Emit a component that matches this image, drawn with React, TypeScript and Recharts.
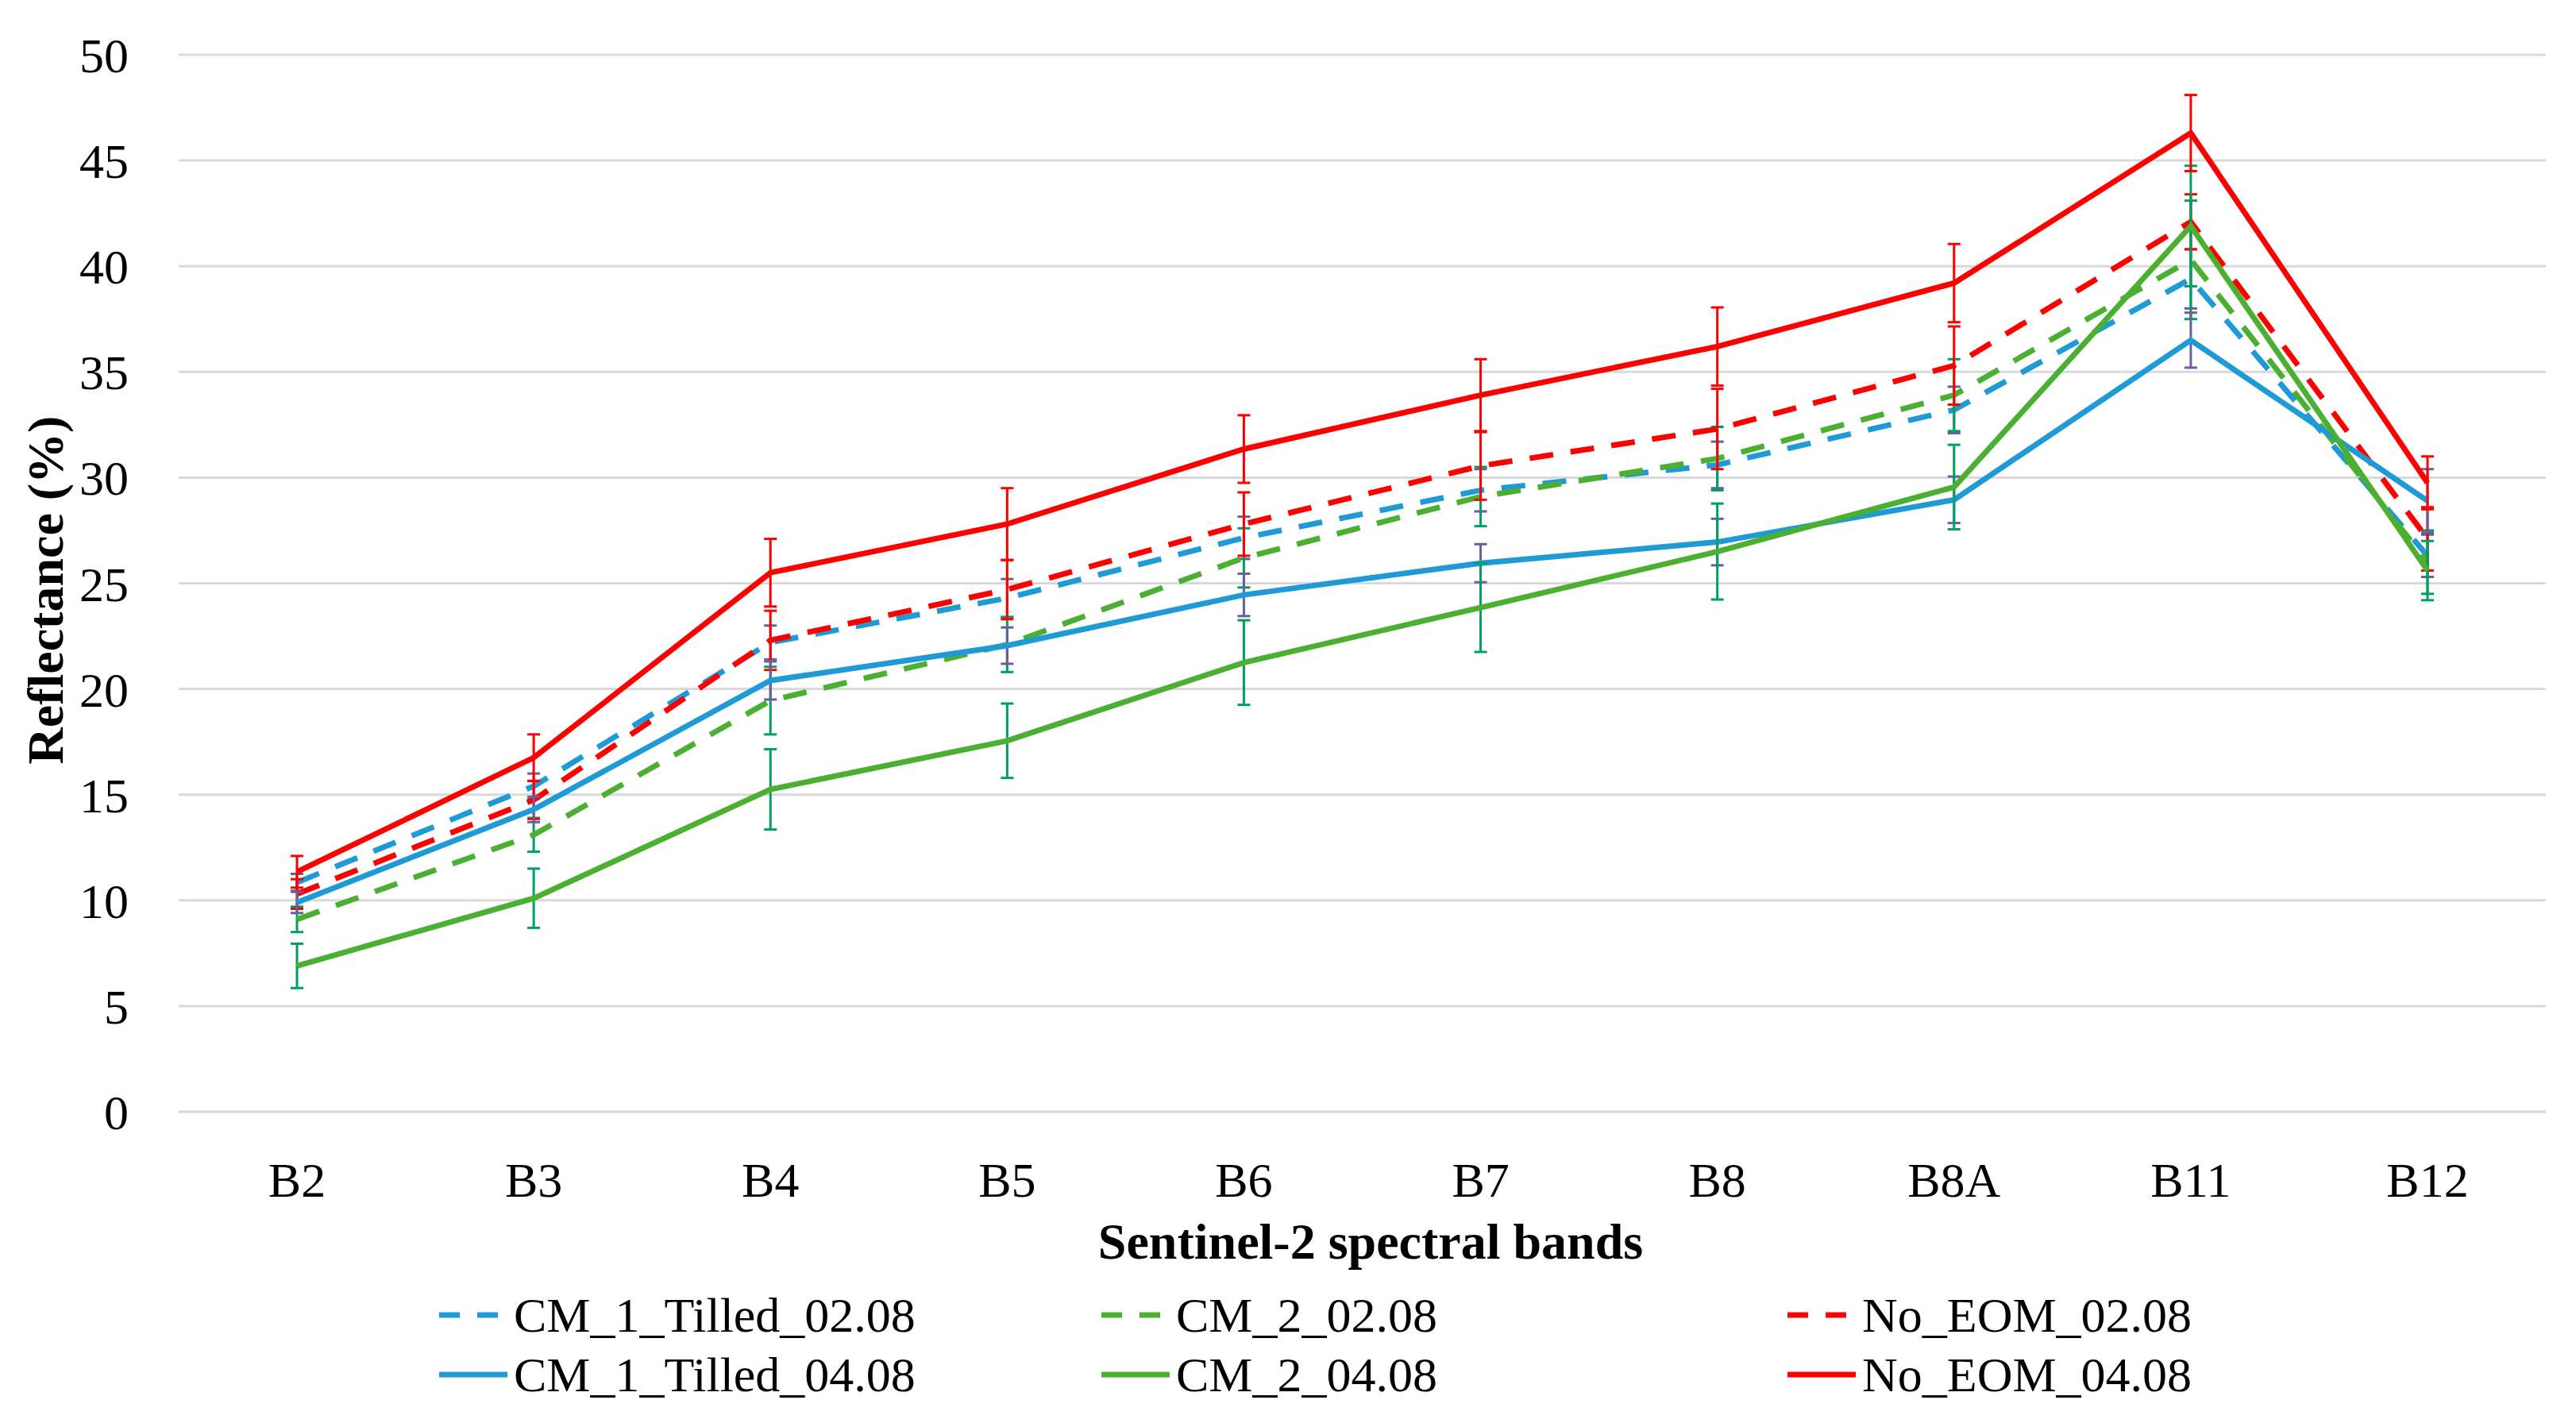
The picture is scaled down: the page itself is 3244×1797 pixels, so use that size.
import React from 'react';
import { LineChart, Line, XAxis, YAxis, CartesianGrid, ErrorBar } from 'recharts';

const bands = ['B2', 'B3', 'B4', 'B5', 'B6', 'B7', 'B8', 'B8A', 'B11', 'B12'];
const yTicks = [0, 5, 10, 15, 20, 25, 30, 35, 40, 45, 50];

// mean reflectance (%) per band
const cm1Tilled0208 = [10.85, 15.4, 22.2, 24.3, 27.15, 29.4, 30.6, 33.2, 39.4, 26.3];
const cm20208 = [9.1, 13.1, 19.45, 22.1, 26.2, 29.1, 30.9, 33.9, 40.3, 26.0];
const noEom0208 = [10.3, 14.75, 22.3, 24.7, 27.8, 30.55, 32.3, 35.3, 42.1, 27.1];
const cm1Tilled0408 = [9.9, 14.3, 20.4, 22.05, 24.45, 25.95, 26.95, 28.95, 36.5, 28.9];
const cm20408 = [6.9, 10.1, 15.25, 17.55, 21.25, 23.85, 26.5, 29.55, 41.9, 25.6];
const noEom0408 = [11.35, 16.75, 25.5, 27.8, 31.35, 33.9, 36.2, 39.2, 46.3, 29.75];

// standard deviations (error bars)
const cm1Tilled0208Err = [0.4, 0.6, 0.8, 0.9, 1.0, 1.0, 1.1, 1.1, 1.4, 1.0];
const cm20208Err = [0.6, 0.8, 1.6, 1.3, 1.4, 1.4, 1.5, 1.7, 2.8, 1.5];
const noEom0208Err = [0.7, 0.9, 1.4, 1.4, 1.5, 1.6, 1.9, 1.85, 1.3, 1.5];
const cm1Tilled0408Err = [0.5, 0.6, 0.9, 0.86, 1.0, 0.9, 1.1, 1.1, 1.3, 1.5];
const cm20408Err = [1.05, 1.4, 1.9, 1.76, 2.0, 2.1, 2.27, 2.0, 2.85, 1.4];
const noEom0408Err = [0.75, 1.1, 1.6, 1.7, 1.6, 1.7, 1.85, 1.85, 1.8, 1.25];

const BLUE = '#1E9AD6';
const GREEN = '#4BAF32';
const RED = '#FF0000';

const series = [
  { key: 'cm1_0208', name: 'CM_1_Tilled_02.08', values: cm1Tilled0208, err: cm1Tilled0208Err, color: BLUE, errColor: '#6B5E9E', dashed: true },
  { key: 'cm2_0208', name: 'CM_2_02.08', values: cm20208, err: cm20208Err, color: GREEN, errColor: '#00A060', dashed: true },
  { key: 'no_0208', name: 'No_EOM_02.08', values: noEom0208, err: noEom0208Err, color: RED, errColor: RED, dashed: true },
  { key: 'cm1_0408', name: 'CM_1_Tilled_04.08', values: cm1Tilled0408, err: cm1Tilled0408Err, color: BLUE, errColor: '#6B5E9E', dashed: false },
  { key: 'cm2_0408', name: 'CM_2_04.08', values: cm20408, err: cm20408Err, color: GREEN, errColor: '#00A060', dashed: false },
  { key: 'no_0408', name: 'No_EOM_04.08', values: noEom0408, err: noEom0408Err, color: RED, errColor: RED, dashed: false },
];

const data = bands.map((band, i) => {
  const row: any = { band };
  series.forEach(s => {
    row[s.key] = s.values[i];
    row[s.key + '_err'] = s.err[i];
  });
  return row;
});

const FONT = '"Liberation Serif", "Times New Roman", serif';
const DASH = '30 22';

const legendCols = [553, 1387, 2251];
const legendRows = [1656, 1731];

function LegendItem({ s, left, top }: { s: any; left: number; top: number }) {
  return (
    <div style={{ position: 'absolute', left, top: top - 40, height: 80, display: 'flex', alignItems: 'center', whiteSpace: 'nowrap' }}>
      <svg width={88} height={20} style={{ marginRight: 6 }}>
        <line x1={0} y1={10} x2={86} y2={10} stroke={s.color} strokeWidth={7} strokeDasharray={s.dashed ? '26 22' : undefined} />
      </svg>
      <span style={{ fontFamily: FONT, fontSize: 62, color: '#000', lineHeight: '80px' }}>{s.name}</span>
    </div>
  );
}

export default function App() {
  return (
    <div style={{ position: 'absolute', left: 0, top: 0, width: 3244, height: 1797, background: '#fff' }}>
      <LineChart
        width={3244}
        height={1797}
        data={data}
        margin={{ top: 69, right: 38, bottom: 297, left: 105 }}
      >
        <CartesianGrid vertical={false} stroke="#D9D9D9" strokeWidth={3} />
        <XAxis
          dataKey="band"
          padding={{ left: 149, right: 149 }}
          axisLine={{ stroke: '#D9D9D9', strokeWidth: 3 }}
          tickLine={false}
          tickSize={0}
          tickMargin={63}
          height={100}
          tick={{ fontFamily: FONT, fontSize: 62, fill: '#000' }}
        />
        <YAxis
          domain={[0, 50]}
          ticks={yTicks}
          interval={0}
          axisLine={false}
          tickLine={false}
          tickSize={0}
          tickMargin={63}
          width={120}
          tick={{ fontFamily: FONT, fontSize: 62, fill: '#000' }}
        />
        {series.map(s => (
          <Line
            key={s.key}
            type="linear"
            dataKey={s.key}
            name={s.name}
            stroke={s.color}
            strokeWidth={7}
            strokeDasharray={s.dashed ? DASH : undefined}
            dot={false}
            activeDot={false}
            isAnimationActive={false}
          >
            <ErrorBar dataKey={s.key + '_err'} direction="y" width={8} stroke={s.errColor} strokeWidth={3} isAnimationActive={false} />
          </Line>
        ))}
      </LineChart>

      <div
        style={{
          position: 'absolute', left: 58, top: 743, transform: 'translate(-50%, -50%) rotate(-90deg)',
          fontFamily: FONT, fontSize: 64, fontWeight: 'bold', whiteSpace: 'nowrap', color: '#000',
        }}
      >
        Reflectance (%)
      </div>
      <div
        style={{
          position: 'absolute', left: 1726, top: 1564, transform: 'translate(-50%, -50%)',
          fontFamily: FONT, fontSize: 64, fontWeight: 'bold', whiteSpace: 'nowrap', color: '#000',
        }}
      >
        Sentinel-2 spectral bands
      </div>

      {series.map((s, i) => (
        <LegendItem key={s.key} s={s} left={legendCols[i % 3]} top={legendRows[Math.floor(i / 3)]} />
      ))}
    </div>
  );
}
